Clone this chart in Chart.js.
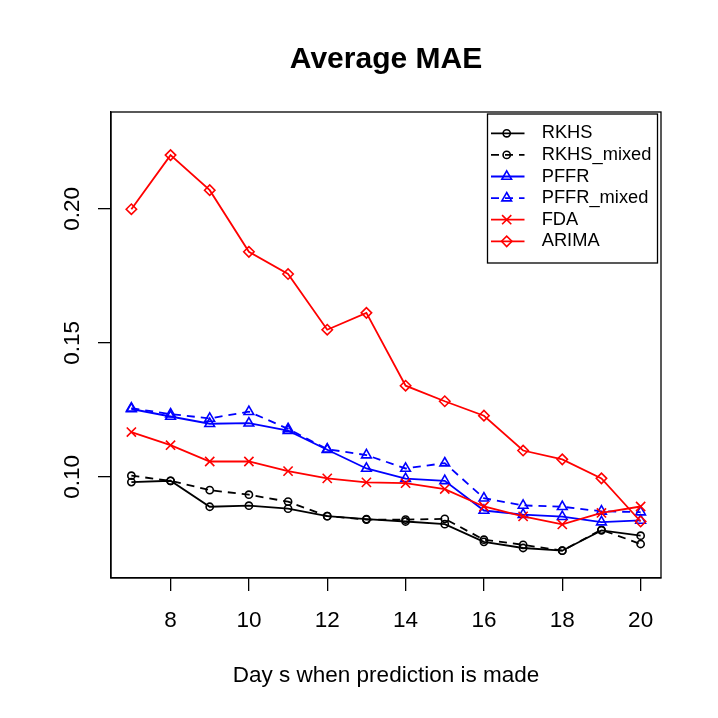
<!DOCTYPE html>
<html>
<head>
<meta charset="utf-8">
<title>Average MAE</title>
<script src="https://cdn.jsdelivr.net/npm/chart.js@4.4.1/dist/chart.umd.min.js"></script>
<style>
  html, body { margin: 0; padding: 0; background: #fff; }
  #wrap { width: 718px; height: 718px; }
</style>
</head>
<body>
<div id="wrap"><canvas id="mae" width="718" height="718"></canvas></div>
<script>
// ─── data ───────────────────────────────────────────────
const DAYS = [7, 8, 9, 10, 11, 12, 13, 14, 15, 16, 17, 18, 19, 20];
const RKHS       = [0.0980, 0.0985, 0.0888, 0.0892, 0.0881, 0.0853, 0.0842, 0.0833, 0.0823, 0.0757, 0.0734, 0.0724, 0.0800, 0.0780];
const RKHS_MIXED = [0.1004, 0.0985, 0.0950, 0.0933, 0.0907, 0.0853, 0.0840, 0.0840, 0.0843, 0.0765, 0.0746, 0.0724, 0.0802, 0.0749];
const PFFR       = [0.1253, 0.1225, 0.1198, 0.1200, 0.1172, 0.1101, 0.1031, 0.0993, 0.0985, 0.0874, 0.0859, 0.0851, 0.0831, 0.0837];
const PFFR_MIXED = [0.1256, 0.1234, 0.1218, 0.1243, 0.1179, 0.1103, 0.1081, 0.1031, 0.1051, 0.0920, 0.0893, 0.0888, 0.0871, 0.0868];
const FDA        = [0.1167, 0.1118, 0.1057, 0.1057, 0.1021, 0.0994, 0.0979, 0.0976, 0.0954, 0.0889, 0.0852, 0.0822, 0.0865, 0.0889];
const ARIMA      = [0.1999, 0.2201, 0.2070, 0.1840, 0.1757, 0.1549, 0.1612, 0.1340, 0.1282, 0.1228, 0.1098, 0.1065, 0.0994, 0.0833];

const X_TICKS = [8, 10, 12, 14, 16, 18, 20];
const Y_TICKS = [0.10, 0.15, 0.20];

const TITLE = 'Average MAE';
const X_TITLE = 'Day s when prediction is made';

const FONT = '"Liberation Sans", Arial, Helvetica, sans-serif';
Chart.defaults.font.family = FONT;
Chart.defaults.color = '#000';

function series(label, values, color, dashed, shape, radius, order) {
  return {
    label,
    data: values.map((v, i) => ({ x: DAYS[i], y: v })),
    borderColor: color,
    borderWidth: 1.8,
    borderDash: dashed ? [8, 6] : [],
    pointStyle: shape,
    pointRadius: radius,
    pointHoverRadius: radius,
    pointBorderColor: color,
    pointBackgroundColor: 'rgba(0,0,0,0)',
    pointBorderWidth: 1.6,
    fill: false,
    tension: 0,
    order
  };
}

const AXIS_LINE = {
  grid:   { drawOnChartArea: false, drawTicks: true, tickLength: 13, color: '#000', lineWidth: 1.3 },
  border: { display: true, color: '#000', width: 1.3 }
};

// ─── title, plot box and R-style legend ───────────────────
const frame = {
  id: 'frame',
  afterDatasetsDraw(chart) {
    const { ctx, chartArea: a } = chart;
    ctx.save();
    ctx.strokeStyle = '#000';
    ctx.lineWidth = 1.3;
    ctx.setLineDash([]);
    ctx.strokeRect(a.left, a.top, a.right - a.left, a.bottom - a.top);
    ctx.font = 'bold 30px ' + FONT;
    ctx.textAlign = 'center';
    ctx.textBaseline = 'alphabetic';
    ctx.fillStyle = '#000';
    ctx.fillText(TITLE, (a.left + a.right) / 2, 67.7);
    ctx.restore();
  }
};

const rLegend = {
  id: 'rLegend',
  afterDraw(chart) {
    const ctx = chart.ctx;
    const x0 = 487.5, y0 = 114, w = 170, h = 149;
    ctx.save();
    ctx.strokeStyle = '#000';
    ctx.lineWidth = 1.3;
    ctx.setLineDash([]);
    ctx.strokeRect(x0, y0, w, h);
    chart.data.datasets.forEach((ds, i) => {
      const y = y0 + 19.3 + i * 21.6;
      ctx.strokeStyle = ds.borderColor;
      ctx.lineWidth = ds.borderWidth;
      ctx.setLineDash(ds.borderDash);
      ctx.beginPath();
      ctx.moveTo(x0 + 3.5, y);
      ctx.lineTo(x0 + 37, y);
      ctx.stroke();
      ctx.setLineDash([]);
      ctx.fillStyle = 'rgba(0,0,0,0)';
      ctx.lineWidth = ds.pointBorderWidth;
      Chart.helpers.drawPoint(ctx, {
        pointStyle: ds.pointStyle, radius: ds.pointRadius, rotation: 0, borderWidth: ds.pointBorderWidth
      }, x0 + 19.2, y);
      ctx.fillStyle = '#000';
      ctx.font = '18.3px ' + FONT;
      ctx.textAlign = 'left';
      ctx.textBaseline = 'middle';
      ctx.fillText(ds.label, x0 + 54.2, y);
    });
    ctx.restore();
  }
};

new Chart(document.getElementById('mae').getContext('2d'), {
  type: 'line',
  data: {
    datasets: [
      series('RKHS',       RKHS,       '#000000', false, 'circle',   3.6, 5),
      series('RKHS_mixed', RKHS_MIXED, '#000000', true,  'circle',   3.6, 4),
      series('PFFR',       PFFR,       '#0000ff', false, 'triangle', 5.6, 3),
      series('PFFR_mixed', PFFR_MIXED, '#0000ff', true,  'triangle', 5.6, 2),
      series('FDA',        FDA,        '#ff0000', false, 'crossRot', 6.5, 1),
      series('ARIMA',      ARIMA,      '#ff0000', false, 'rectRot',  5.2, 0)
    ]
  },
  options: {
    responsive: false,
    animation: false,
    devicePixelRatio: 1,
    layout: { padding: { top: 112, right: 57, bottom: 0, left: 0 } },
    plugins: { legend: { display: false }, tooltip: { enabled: false } },
    scales: {
      x: {
        type: 'linear',
        min: 6.48,
        max: 20.52,
        afterBuildTicks: s => { s.ticks = X_TICKS.map(v => ({ value: v })); },
        afterFit: s => { s.height = 140; },
        ...AXIS_LINE,
        ticks: { font: { size: 22.5 }, color: '#000', padding: 16, autoSkip: false, maxRotation: 0, callback: v => String(v) },
        title: { display: true, text: X_TITLE, font: { size: 22.5 }, color: '#000', padding: { top: 0, bottom: 29 } }
      },
      y: {
        type: 'linear',
        min: 0.0622,
        max: 0.2362,
        afterBuildTicks: s => { s.ticks = Y_TICKS.map(v => ({ value: v })); },
        afterFit: s => { s.width = 111; },
        ...AXIS_LINE,
        ticks: {
          font: { size: 22.5 }, color: '#000', padding: 3.6, autoSkip: false,
          minRotation: 90, maxRotation: 90, crossAlign: 'center',
          callback: v => v.toFixed(2)
        }
      }
    }
  },
  plugins: [frame, rLegend]
});
</script>
</body>
</html>
